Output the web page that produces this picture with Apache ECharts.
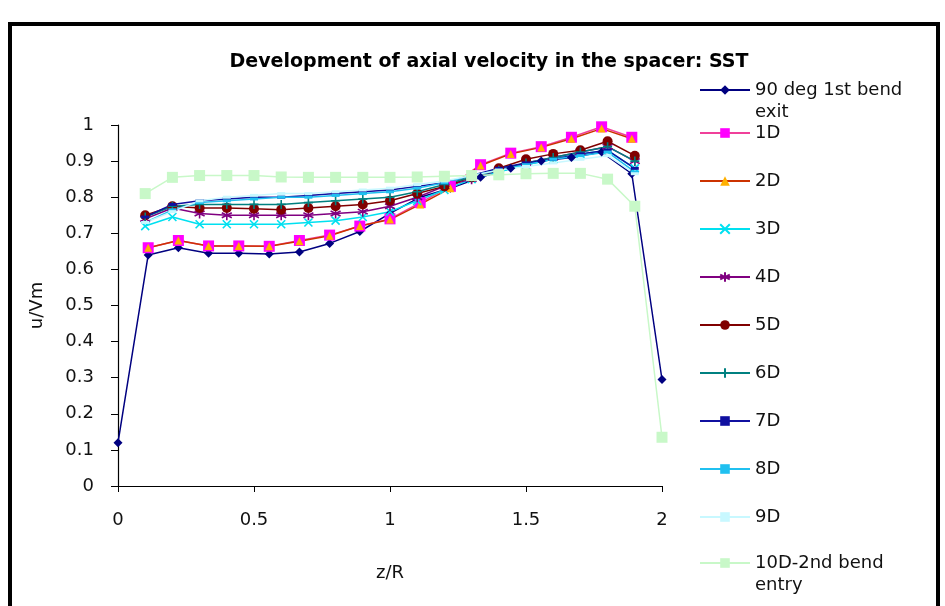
<!DOCTYPE html>
<html>
<head>
<meta charset="utf-8">
<script src="https://cdn.jsdelivr.net/npm/echarts@6/dist/echarts.min.js"></script>
<style>
  html, body { margin: 0; padding: 0; background: #fff; }
  #chart { width: 945px; height: 606px; }
</style>
</head>
<body>
<div id="chart"></div>
<script>
// Axial positions z/R: ninths for the bend-exit, 1D and 2D stations, tenths for the rest
const zNinths = [0, 0.111, 0.222, 0.333, 0.444, 0.556, 0.667, 0.778, 0.889, 1.0,
                 1.111, 1.222, 1.333, 1.444, 1.556, 1.667, 1.778, 1.889, 2.0];
const zNinthsInner = [0.111, 0.222, 0.333, 0.444, 0.556, 0.667, 0.778, 0.889, 1.0,
                      1.111, 1.222, 1.333, 1.444, 1.556, 1.667, 1.778, 1.889];
const zTenths = [0.1, 0.2, 0.3, 0.4, 0.5, 0.6, 0.7, 0.8, 0.9, 1.0,
                 1.1, 1.2, 1.3, 1.4, 1.5, 1.6, 1.7, 1.8, 1.9];
const zTenthsFull = [0.1, 0.2, 0.3, 0.4, 0.5, 0.6, 0.7, 0.8, 0.9, 1.0,
                     1.1, 1.2, 1.3, 1.4, 1.5, 1.6, 1.7, 1.8, 1.9, 2.0];

// u/Vm profiles
const bendExit = [0.12, 0.64, 0.66, 0.645, 0.645, 0.643, 0.648, 0.672, 0.705, 0.755,
                  0.80, 0.825, 0.855, 0.88, 0.90, 0.91, 0.925, 0.865, 0.295];
const d1 = [0.66, 0.68, 0.665, 0.665, 0.664, 0.68, 0.695, 0.72, 0.74,
            0.785, 0.83, 0.89, 0.922, 0.94, 0.966, 0.995, 0.966];
const d2 = [0.66, 0.68, 0.665, 0.665, 0.664, 0.678, 0.693, 0.72, 0.738,
            0.78, 0.825, 0.888, 0.92, 0.938, 0.962, 0.99, 0.962];
const d3 = [0.72, 0.745, 0.725, 0.725, 0.725, 0.725, 0.73, 0.735, 0.745, 0.76,
            0.79, 0.82, 0.85, 0.87, 0.89, 0.905, 0.92, 0.93, 0.88];
const d4 = [0.74, 0.77, 0.755, 0.75, 0.75, 0.75, 0.75, 0.755, 0.76, 0.775,
            0.80, 0.83, 0.85, 0.875, 0.895, 0.91, 0.925, 0.94, 0.90];
const d5 = [0.75, 0.775, 0.77, 0.77, 0.768, 0.765, 0.77, 0.775, 0.78, 0.79,
            0.81, 0.83, 0.855, 0.88, 0.905, 0.92, 0.93, 0.955, 0.915];
const d6 = [0.745, 0.775, 0.78, 0.78, 0.78, 0.78, 0.785, 0.79, 0.795, 0.80,
            0.815, 0.835, 0.855, 0.875, 0.895, 0.91, 0.925, 0.94, 0.90];
const d7 = [0.745, 0.78, 0.79, 0.795, 0.80, 0.80, 0.805, 0.81, 0.815, 0.82,
            0.83, 0.84, 0.86, 0.88, 0.895, 0.905, 0.92, 0.93, 0.88];
const d8 = [0.73, 0.765, 0.785, 0.79, 0.795, 0.80, 0.80, 0.805, 0.81, 0.815,
            0.825, 0.84, 0.86, 0.875, 0.89, 0.905, 0.915, 0.925, 0.87];
const d9 = [0.73, 0.76, 0.79, 0.80, 0.805, 0.81, 0.81, 0.815, 0.82, 0.825,
            0.835, 0.845, 0.86, 0.875, 0.885, 0.895, 0.905, 0.915, 0.865];
const d10 = [0.81, 0.855, 0.86, 0.86, 0.86, 0.856, 0.855, 0.855, 0.855, 0.855,
             0.856, 0.858, 0.86, 0.862, 0.865, 0.866, 0.866, 0.85, 0.775, 0.135];

const xTicks = { min: 0, max: 2, interval: 0.5 };
const yTicks = { min: 0, max: 1, interval: 0.1 };

const FONT = '"DejaVu Sans", Verdana, sans-serif';

// marker glyphs drawn as stroked paths
const SYM_X = 'path://M0,0L10,10M10,0L0,10';
const SYM_STAR = 'path://M5,0L5,10M0.7,2.5L9.3,7.5M0.7,7.5L9.3,2.5';
const SYM_PLUS = 'path://M5,0L5,10M0,5L10,5';

function pairs(xs, ys) { return xs.map((x, i) => [x, ys[i]]); }

const seriesDefs = [
  { name: '90 deg 1st bend exit', x: zNinths, y: bendExit, color: '#000080',
    symbol: 'diamond', size: 9 },
  { name: '1D', x: zNinthsInner, y: d1, color: '#FF00FF', line: '#F0409A',
    symbol: 'rect', size: 11 },
  { name: '2D', x: zNinthsInner, y: d2, color: '#FFB000', line: '#CC3300',
    symbol: 'triangle', size: 8 },
  { name: '3D', x: zTenths, y: d3, color: '#00E0F0', symbol: SYM_X, size: 8, stroke: true },
  { name: '4D', x: zTenths, y: d4, color: '#800080', symbol: SYM_STAR, size: 10, stroke: true },
  { name: '5D', x: zTenths, y: d5, color: '#800000', symbol: 'circle', size: 10 },
  { name: '6D', x: zTenths, y: d6, color: '#008080', symbol: SYM_PLUS, size: 9, stroke: true },
  { name: '7D', x: zTenths, y: d7, color: '#1010A0', symbol: 'rect', size: [8, 3] },
  { name: '8D', x: zTenths, y: d8, color: '#20C0F0', symbol: 'rect', size: [8, 3] },
  { name: '9D', x: zTenths, y: d9, color: '#C8F8FF', symbol: 'rect', size: [8, 3] },
  { name: '10D-2nd bend entry', x: zTenthsFull, y: d10, color: '#C8F8C8',
    symbol: 'rect', size: 11 }
];

// vertical centre of each legend row (icon and first text line)
const legendRows = [90, 133, 181, 229, 277, 325, 373, 421, 469, 517, 563];
const LEG_LH = 22;

const series = seriesDefs.map((d) => ({
  name: d.name,
  type: 'line',
  data: pairs(d.x, d.y),
  symbol: d.symbol,
  symbolSize: d.size,
  showAllSymbol: true,
  animation: false,
  lineStyle: { color: d.line || d.color, width: 1.5 },
  itemStyle: d.stroke
    ? { color: 'rgba(0,0,0,0)', borderColor: d.color, borderWidth: 1.6 }
    : { color: d.color, borderWidth: 0 },
  emphasis: { disabled: true }
}));

// two-line entries get an empty leading line so the icon sits beside the first line
const legends = seriesDefs.map((d, i) => {
  const twoLine = / (exit|entry)$/.test(d.name);
  const h = twoLine ? LEG_LH * 3 : LEG_LH;
  return {
    data: [d.name],
    left: 699,
    top: legendRows[i] - h / 2,
    orient: 'vertical',
    itemWidth: 50,
    itemHeight: 12,
    itemGap: 0,
    padding: 0,
    selectedMode: false,
    formatter: (n) => twoLine ? ' \n' + n.replace(/ (exit|entry)$/, '\n$1') : n,
    textStyle: { fontFamily: FONT, fontSize: 18, color: '#111', lineHeight: LEG_LH }
  };
});

const chart = echarts.init(document.getElementById('chart'), null, { renderer: 'canvas' });
chart.setOption({
  backgroundColor: '#fff',
  animation: false,
  title: {
    text: 'Development of axial velocity in the spacer: SST',
    left: 484, top: 48, textAlign: 'center',
    textStyle: { fontFamily: FONT, fontSize: 19, fontWeight: 'bold', color: '#000' }
  },
  graphic: [{
    type: 'rect', z: 100,
    shape: { x: 10, y: 24, width: 928, height: 620 },
    style: { fill: 'none', stroke: '#000', lineWidth: 4 }
  }],
  legend: legends,
  grid: { left: 118, top: 125, width: 544, height: 361, containLabel: false },
  xAxis: {
    type: 'value', min: xTicks.min, max: xTicks.max, interval: xTicks.interval,
    name: 'z/R', nameLocation: 'middle', nameGap: 78,
    nameTextStyle: { fontFamily: FONT, fontSize: 18, color: '#111' },
    axisLine: { lineStyle: { color: '#000', width: 1.2 } },
    axisTick: { show: true, length: 6, lineStyle: { color: '#000' } },
    axisLabel: { fontFamily: FONT, fontSize: 18, color: '#111', margin: 25 },
    splitLine: { show: false }
  },
  yAxis: {
    type: 'value', min: yTicks.min, max: yTicks.max, interval: yTicks.interval,
    name: 'u/Vm', nameLocation: 'middle', nameGap: 72, nameRotate: 90,
    nameTextStyle: { fontFamily: FONT, fontSize: 18, color: '#111' },
    axisLine: { show: true, lineStyle: { color: '#000', width: 1.2 } },
    axisTick: { show: true, length: 7, lineStyle: { color: '#000' } },
    axisLabel: { fontFamily: FONT, fontSize: 18, color: '#111', margin: 24 },
    splitLine: { show: false }
  },
  series: series
});
</script>
</body>
</html>
